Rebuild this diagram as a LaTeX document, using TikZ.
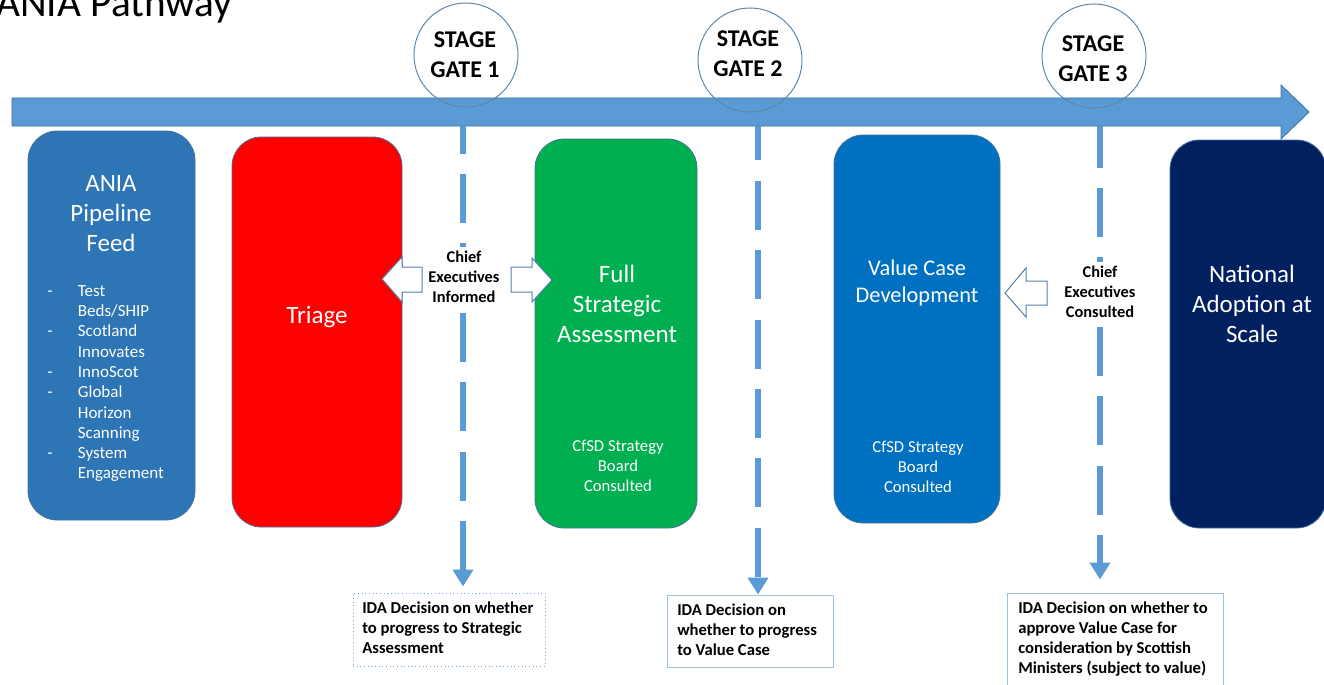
\documentclass[tikz,border=0pt]{standalone}
\usepackage{fontspec}
\setmainfont{Carlito}
\usetikzlibrary{arrows.meta}

\definecolor{pathblue}{HTML}{5B9BD5}
\definecolor{edgeblue}{HTML}{41719C}
\definecolor{feedblue}{HTML}{2E75B6}
\definecolor{triagered}{HTML}{FF0000}
\definecolor{fsagreen}{HTML}{00B050}
\definecolor{valueblue}{HTML}{0070C0}
\definecolor{navyblue}{HTML}{002060}
\definecolor{idaedge}{HTML}{9DC3E6}
\definecolor{idadots}{HTML}{6FA3DA}

\tikzset{
  stagebox/.style={draw=edgeblue, line width=0.6pt, rounded corners=22pt, inner sep=0pt},
  gate/.style={circle, draw=edgeblue!85, line width=0.75pt, minimum size=78pt, inner sep=0pt},
  gatetext/.style={align=center, inner sep=0pt, font=\fontsize{18}{22.5}\selectfont\bfseries},
  boxtitle/.style={align=center, inner sep=0pt, text=white, font=\fontsize{18.75}{22.5}\selectfont},
  smalltext/.style={align=center, inner sep=0pt, text=white, font=\fontsize{12.5}{15}\selectfont},
  chieftext/.style={align=center, fill=white, inner sep=3pt, font=\fontsize{12.3}{15}\selectfont\bfseries},
  idabox/.style={draw=idaedge, line width=0.75pt, inner sep=0pt},
  idatext/.style={anchor=north west, inner sep=0pt, align=left, font=\fontsize{12.5}{15}\selectfont\bfseries},
  gateline/.style={pathblue, line width=4.5pt, dash pattern=on 36.75pt off 15.3pt,
    -{Triangle[width=15pt,length=12.75pt]}},
  hollow/.style={draw=edgeblue!90, fill=white, line width=0.75pt, line join=miter},
}

\begin{document}
\begin{tikzpicture}[x=0.75pt, y=-0.75pt]
\useasboundingbox (0,0) rectangle (1324,685);

% title, cut by the page edge
\node[anchor=base west, inner sep=0pt, font=\fontsize{31}{36}\selectfont] (title) at (-4,17) {ANIA Pathway};

% timeline
\path[fill=pathblue, draw=edgeblue, line width=0.6pt] (12,98) -- (1281,98) -- (1281,85) -- (1309,112)
  -- (1281,139) -- (1281,126) -- (12,126) -- cycle;

% stage gates
\node[gate] (g1) at (466,55) {};
\node[gate] (g2) at (750,60) {};
\node[gate] (g3) at (1094,56) {};
\node[gatetext] at (465,55) {STAGE\\GATE 1};
\node[gatetext] at (748,54) {STAGE\\GATE 2};
\node[gatetext] at (1093,59) {STAGE\\GATE 3};

\coordinate (s1) at (463,126);
\coordinate (s2) at (758,126);
\coordinate (s3) at (1100,126);

% stages
\node[stagebox, fill=feedblue, minimum width=125.25pt, minimum height=291.75pt] (feed) at (111.5,325.5) {};
\node[stagebox, fill=triagered, minimum width=127.5pt, minimum height=292.5pt] (triage) at (317,332) {};
\node[stagebox, fill=fsagreen, minimum width=121.5pt, minimum height=291.75pt] (fsa) at (616,333.5) {};
\node[stagebox, fill=valueblue, minimum width=124.5pt, minimum height=291pt] (vcd) at (917,329) {};
\node[stagebox, fill=navyblue, minimum width=117pt, minimum height=291pt] (nat) at (1248,334) {};

\node[boxtitle] at (111,214) {ANIA\\Pipeline\\Feed};
\node[anchor=north west, inner sep=0pt, text=white, font=\fontsize{12.75}{15.2}\selectfont] (feedlist) at (47,282) {%
  \begin{tabular}{@{}p{23pt}@{}l@{}}
  - & Test\\
    & Beds/SHIP\\
  - & Scotland\\
    & Innovates\\
  - & InnoScot\\
  - & Global\\
    & Horizon\\
    & Scanning\\
  - & System\\
    & Engagement
  \end{tabular}};
\node[boxtitle] at (317,317) {Triage};
\node[boxtitle] at (617,304) {Full\\Strategic\\Assessment};
\node[smalltext] at (618,466) {CfSD Strategy\\Board\\Consulted};
\node[boxtitle, font=\fontsize{16.8}{20.5}\selectfont] at (917,283) {Value Case\\Development};
\node[smalltext] at (918,467) {CfSD Strategy\\Board\\Consulted};
\node[boxtitle] at (1252,304) {National\\Adoption at\\Scale};

% decisions
\node[idabox, draw=idadots, dotted, minimum width=144pt, minimum height=54.75pt] (d1) at (449,629.5) {};
\node[idabox, minimum width=124.5pt, minimum height=54pt] (d2) at (750,631) {};
\node[idabox, minimum width=162pt, minimum height=71.25pt] (d3) at (1115,640.5) {};
\node[idatext] at (362,602) {IDA Decision on whether\\to progress to Strategic\\Assessment};
\node[idatext] at (677,604) {IDA Decision on\\whether to progress\\to Value Case};
\node[idatext] at (1018,602) {IDA Decision on whether to\\approve Value Case for\\consideration by Scottish\\Ministers (subject to value)};

\draw[gateline, dash phase=16pt, shorten >=4.5pt] (s1) -- (s1 |- d1.north);
\draw[gateline, dash phase=10.9pt] (s2) -- (s2 |- d2.north);
\draw[gateline, dash phase=5.5pt, shorten >=9.75pt] (s3) -- (s3 |- d3.north);

% chief executives
\node[chieftext] (ceinf) at (464,277) {Chief\\Executives\\Informed};
\node[chieftext] (cecons) at (1100,292) {Chief\\Executives\\Consulted};

\draw[hollow] (382,279) -- (402,257) -- (402,267) -- (422,267) -- (422,292) -- (402,292) -- (402,302) -- cycle;
\draw[hollow] (552,280) -- (532,258) -- (532,267) -- (511,267) -- (511,292) -- (532,292) -- (532,302) -- cycle;
\draw[hollow] (1005,293) -- (1026,268) -- (1026,281) -- (1047,281) -- (1047,305) -- (1026,305) -- (1026,317) -- cycle;
\end{tikzpicture}
\end{document}
